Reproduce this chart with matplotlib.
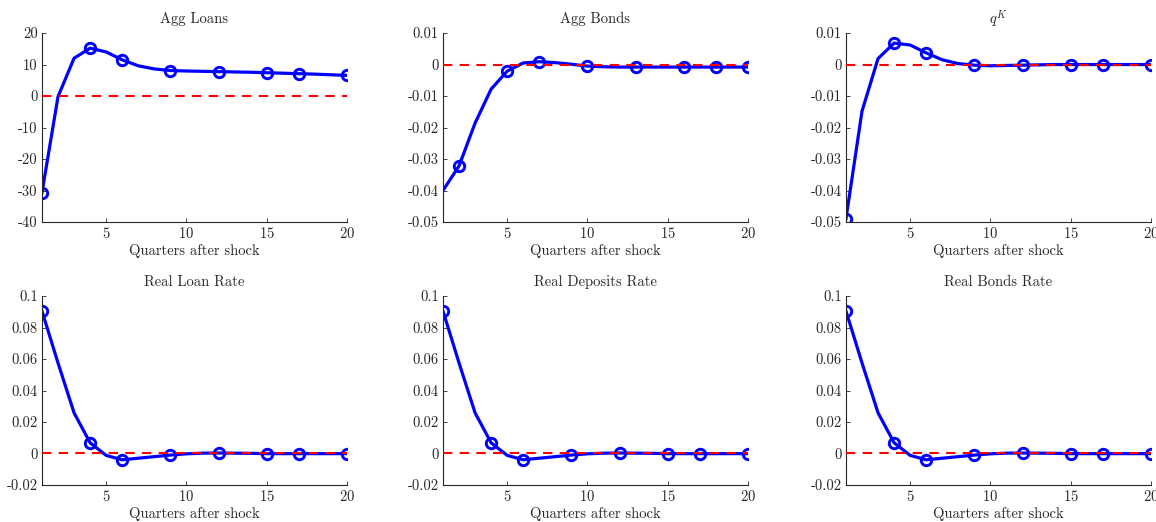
import matplotlib
matplotlib.use("Agg")
import matplotlib.pyplot as plt
import numpy as np

# quarters after shock
quarters = np.arange(1, 21)

agg_loans = [-30.7, -0.2, 12.0, 15.2, 14.0, 11.5, 9.6, 8.6, 8.1, 7.95,
             7.85, 7.75, 7.65, 7.55, 7.4, 7.25, 7.1, 6.95, 6.75, 6.55]
agg_bonds = [-0.0400, -0.0322, -0.0186, -0.0078, -0.0021, 0.0005, 0.0009, 0.0006,
             0.0001, -0.0005, -0.0007, -0.0008, -0.0008, -0.0008, -0.0008,
             -0.0008, -0.0008, -0.0008, -0.0008, -0.0008]
q_k = [-0.0490, -0.0148, 0.0019, 0.0068, 0.0062, 0.0037, 0.0015, 0.0003,
       -0.0002, -0.0004, -0.0003, -0.0002, -0.0001, 0.0000, 0.0000,
       0.0000, 0.0000, 0.0000, 0.0000, 0.0000]
real_loan_rate = [0.0905, 0.0575, 0.0258, 0.0068, -0.0012, -0.0040, -0.0030, -0.0020,
                  -0.0010, -0.0002, 0.0002, 0.0003, 0.0002, 0.0001, -0.0001,
                  -0.0001, -0.0001, -0.0001, -0.0001, -0.0001]
real_deposits_rate = [0.0905, 0.0575, 0.0258, 0.0068, -0.0012, -0.0040, -0.0030, -0.0020,
                      -0.0010, -0.0002, 0.0002, 0.0003, 0.0002, 0.0001, -0.0001,
                      -0.0001, -0.0001, -0.0001, -0.0001, -0.0001]
real_bonds_rate = [0.0905, 0.0575, 0.0258, 0.0068, -0.0012, -0.0040, -0.0030, -0.0020,
                   -0.0010, -0.0002, 0.0002, 0.0003, 0.0002, 0.0001, -0.0001,
                   -0.0001, -0.0001, -0.0001, -0.0001, -0.0001]

titles = ["Agg Loans", "Agg Bonds", "$q^K$",
          "Real Loan Rate", "Real Deposits Rate", "Real Bonds Rate"]
series = [agg_loans, agg_bonds, q_k, real_loan_rate, real_deposits_rate, real_bonds_rate]
marker_quarters = [[1, 4, 6, 9, 12, 15, 17, 20],
                   [2, 5, 7, 10, 13, 16, 18, 20],
                   [1, 4, 6, 9, 12, 15, 17, 20],
                   [1, 4, 6, 9, 12, 15, 17, 20],
                   [1, 4, 6, 9, 12, 15, 17, 20],
                   [1, 4, 6, 9, 12, 15, 17, 20]]
ylims = [(-40, 20), (-0.05, 0.01), (-0.05, 0.01),
         (-0.02, 0.1), (-0.02, 0.1), (-0.02, 0.1)]
yticks = [[-40, -30, -20, -10, 0, 10, 20],
          [-0.05, -0.04, -0.03, -0.02, -0.01, 0, 0.01],
          [-0.05, -0.04, -0.03, -0.02, -0.01, 0, 0.01],
          [-0.02, 0, 0.02, 0.04, 0.06, 0.08, 0.1],
          [-0.02, 0, 0.02, 0.04, 0.06, 0.08, 0.1],
          [-0.02, 0, 0.02, 0.04, 0.06, 0.08, 0.1]]

plt.rcParams['font.family'] = 'cmr10'
plt.rcParams['mathtext.fontset'] = 'cm'
plt.rcParams['axes.unicode_minus'] = False
plt.rcParams['axes.formatter.use_mathtext'] = True

txt_color = '#262626'
fs = 10.5

fig = plt.figure(figsize=(11.56, 5.22), dpi=100)

lefts = [0.0363, 0.3832, 0.7318]
bottoms = [0.5747, 0.0709]
w, h = 0.2638, 0.362

for i in range(6):
    ax = fig.add_axes([lefts[i % 3], bottoms[i // 3], w, h])
    y = np.array(series[i])
    idx = [q - 1 for q in marker_quarters[i]]
    ax.plot(quarters, y, color='#0000ff', lw=2.3, marker='o', markevery=idx,
            markersize=7.5, markerfacecolor='none', markeredgewidth=2.1,
            markeredgecolor='#0000ff', zorder=2)
    ax.plot(quarters, np.zeros(len(quarters)), color='#ff0000', lw=1.5,
            ls=(0, (4.5, 3.5)), zorder=3)
    ax.set_xlim(1, 20)
    ax.set_ylim(*ylims[i])
    ax.set_xticks([5, 10, 15, 20])
    ax.set_yticks(yticks[i])
    ax.set_yticklabels(["%g" % t for t in yticks[i]])
    ax.set_title(titles[i], fontsize=fs, color=txt_color, pad=7)
    ax.set_xlabel("Quarters after shock", fontsize=fs, color=txt_color, labelpad=2)
    for s in ['top', 'right']:
        ax.spines[s].set_visible(False)
    for s in ['left', 'bottom']:
        ax.spines[s].set_color(txt_color)
        ax.spines[s].set_linewidth(0.8)
    ax.tick_params(direction='in', length=3, width=0.6, labelsize=fs,
                   colors=txt_color, pad=3)
    ax.patch.set_alpha(0)

fig.savefig("out.png", dpi=100)
